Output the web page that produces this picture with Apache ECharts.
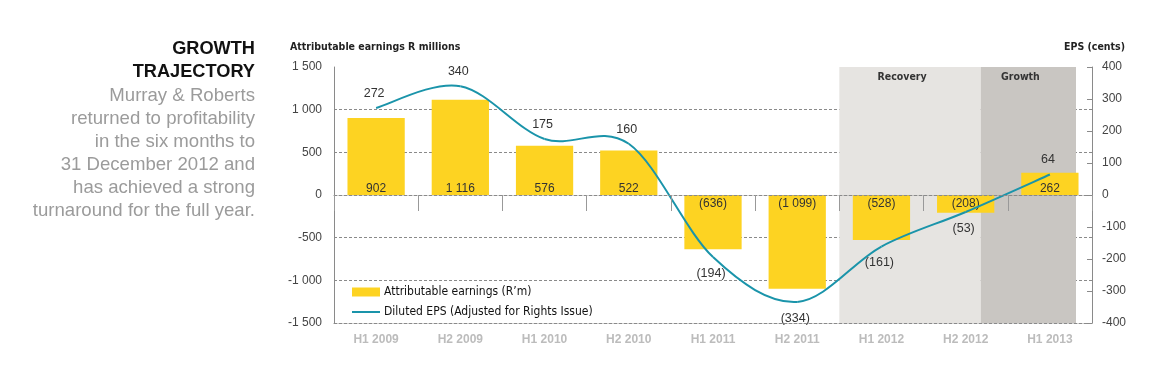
<!DOCTYPE html>
<html>
<head>
<meta charset="utf-8">
<script src="https://cdn.jsdelivr.net/npm/echarts@6/dist/echarts.min.js"></script>
<style>html,body{margin:0;padding:0;background:#fff;}#c{width:1169px;height:374px;}</style>
</head>
<body>
<div id="c"></div>
<script>
const categories = ['H1 2009','H2 2009','H1 2010','H2 2010','H1 2011','H2 2011','H1 2012','H2 2012','H1 2013'];
const earnings = [902, 1116, 576, 522, -636, -1099, -528, -208, 262];
const eps = [272, 340, 175, 160, -194, -334, -161, -53, 64];
const leftAxisRange = [-1500, 1500, 500];
const rightAxisRange = [-400, 400, 100];
const phases = [
  { name: 'Recovery', from: 6, to: 7.68 },
  { name: 'Growth', from: 7.68, to: 8.81 }
];
const phaseColors = ['#e6e4e1', '#c9c6c2'];
const titleText = 'GROWTH\nTRAJECTORY';
const bodyText = 'Murray & Roberts\nreturned to profitability\nin the six months to\n31 December 2012 and\nhas achieved a strong\nturnaround for the full year.';
const barName = 'Attributable earnings (R\u2019m)';
const lineName = 'Diluted EPS (Adjusted for Rights Issue)';

const COND = "'DejaVu Sans Condensed', 'Liberation Sans Narrow', Roboto, sans-serif";
const SANS = "'Liberation Sans', Arial, sans-serif";
const YELLOW = '#fdd322';
const TEAL = '#1a94aa';
const GRID = '#8a8a8a';

function fmtNum(v) {
  return String(Math.abs(v)).replace(/\B(?=(\d{3})+(?!\d))/g, ' ');
}
function fmtAxis(v) { return (v < 0 ? '-' : '') + fmtNum(v); }
function fmtVal(v) { return v < 0 ? '(' + fmtNum(v) + ')' : fmtNum(v); }

const chart = echarts.init(document.getElementById('c'));
const nLeftLines = (leftAxisRange[1] - leftAxisRange[0]) / leftAxisRange[2] + 1;
const splitColors = [];
for (let i = 0; i < nLeftLines; i++) splitColors.push(i === nLeftLines - 1 ? 'rgba(0,0,0,0)' : GRID);

// Catmull-Rom spline through the EPS points, computed from axis coordinates
function renderEps(params, api) {
  const i = params.dataIndex;
  const last = eps.length - 1;
  const pt = k => api.coord([k, eps[k]]);
  const p1 = pt(i);
  const children = [];
  if (i < last) {
    const p0 = pt(Math.max(i - 1, 0));
    const p2 = pt(i + 1);
    const p3 = pt(Math.min(i + 2, last));
    children.push({
      type: 'bezierCurve',
      shape: {
        x1: p1[0], y1: p1[1], x2: p2[0], y2: p2[1],
        cpx1: p1[0] + (p2[0] - p0[0]) / 6, cpy1: p1[1] + (p2[1] - p0[1]) / 6,
        cpx2: p2[0] - (p3[0] - p1[0]) / 6, cpy2: p2[1] - (p3[1] - p1[1]) / 6
      },
      style: { stroke: TEAL, lineWidth: 2, fill: null }
    });
  }
  const v = eps[i];
  const up = v >= 0;
  children.push({
    type: 'text',
    x: p1[0] - 2, y: p1[1] + (up ? -8 : 10),
    style: { text: fmtVal(v), font: '12.5px ' + SANS, fill: '#333', textAlign: 'center', textVerticalAlign: up ? 'bottom' : 'top' }
  });
  return { type: 'group', children: children };
}

chart.setOption({
  animation: false,
  textStyle: { fontFamily: SANS },
  grid: { left: 334, right: 77, top: 67, bottom: 51, containLabel: false },
  graphic: [
    { type: 'text', x: 255, y: 37, style: { text: titleText, font: 'bold 18.2px ' + SANS, fill: '#111', textAlign: 'right', textVerticalAlign: 'top', lineHeight: 23 } },
    { type: 'text', x: 255, y: 84, style: { text: bodyText, font: '18.6px ' + SANS, fill: '#9b9b9b', textAlign: 'right', textVerticalAlign: 'top', lineHeight: 23 } },
    { type: 'text', x: 290, y: 47, style: { text: 'Attributable earnings R millions', font: 'bold 10.5px ' + COND, fill: '#222', textAlign: 'left', textVerticalAlign: 'middle' } },
    { type: 'text', x: 1125, y: 47, style: { text: 'EPS (cents)', font: 'bold 10.5px ' + COND, fill: '#222', textAlign: 'right', textVerticalAlign: 'middle' } }
  ],
  legend: {
    left: 352, top: 286, orient: 'vertical', itemGap: 8, itemWidth: 28, itemHeight: 9, padding: 0,
    textStyle: { fontFamily: COND, fontSize: 12, color: '#111', padding: [0, 0, 0, -1] },
    data: [
      { name: barName, icon: 'rect' },
      { name: lineName, icon: 'path://M0,0h0.5v0.01h-0.5z M0,3.6h28v2h-28z M0,9h0.5v-0.01h-0.5z' }
    ]
  },
  xAxis: [
    { type: 'category', data: categories, position: 'bottom', z: 5,
      axisLine: { onZero: true, lineStyle: { color: GRID, type: [3, 2], width: 1 } },
      axisTick: { show: true, length: 16, lineStyle: { color: '#999' } },
      axisLabel: { show: false } },
    { type: 'category', data: categories, position: 'bottom', z: 5,
      axisLine: { onZero: false, lineStyle: { color: GRID, type: [3, 2], width: 1 } },
      axisTick: { show: false },
      axisLabel: { show: true, color: '#bcbcbc', fontWeight: 'bold', fontSize: 12, margin: 11, fontFamily: SANS } },
    { type: 'value', min: 0, max: categories.length, show: false }
  ],
  yAxis: [
    { type: 'value', min: leftAxisRange[0], max: leftAxisRange[1], interval: leftAxisRange[2],
      axisLine: { show: true, lineStyle: { color: GRID } },
      axisTick: { show: false },
      axisLabel: { color: '#444', fontSize: 12, margin: 12, formatter: fmtAxis },
      splitLine: { show: true, lineStyle: { color: splitColors, type: [3, 2], width: 1 } } },
    { type: 'value', min: rightAxisRange[0], max: rightAxisRange[1], interval: rightAxisRange[2],
      axisLine: { show: true, lineStyle: { color: GRID } },
      axisTick: { show: true, inside: true, length: 5, lineStyle: { color: GRID } },
      axisLabel: { color: '#444', fontSize: 12, margin: 10, formatter: fmtAxis },
      splitLine: { show: false } }
  ],
  series: [
    { type: 'custom', xAxisIndex: 2, yAxisIndex: 0, z: 1, silent: true,
      data: phases.map(p => [p.from, p.to]),
      renderItem: function (params, api) {
        const p0 = api.coord([api.value(0), leftAxisRange[1]]);
        const p1 = api.coord([api.value(1), leftAxisRange[0]]);
        return {
          type: 'rect',
          shape: { x: p0[0], y: p0[1], width: p1[0] - p0[0], height: p1[1] - p0[1] },
          style: { fill: phaseColors[params.dataIndex] },
          textContent: { style: { text: phases[params.dataIndex].name, font: 'bold 10.5px ' + COND, fill: '#333' } },
          textConfig: { position: 'insideTop', distance: 5, offset: [-8, 0] }
        };
      } },
    { name: barName, type: 'bar', xAxisIndex: 0, yAxisIndex: 0, barWidth: '68%', z: 2,
      itemStyle: { color: YELLOW },
      data: earnings.map(v => ({ value: v, label: { position: v >= 0 ? 'insideBottom' : 'insideTop', distance: v >= 0 ? 0 : 3 } })),
      label: { show: true, color: '#333', fontSize: 12, formatter: p => fmtVal(p.value) } },
    { name: lineName, type: 'custom', xAxisIndex: 0, yAxisIndex: 1, z: 4, silent: true,
      itemStyle: { color: TEAL },
      data: eps.map((v, i) => [i, v]),
      renderItem: renderEps }
  ]
});
</script>
</body>
</html>
